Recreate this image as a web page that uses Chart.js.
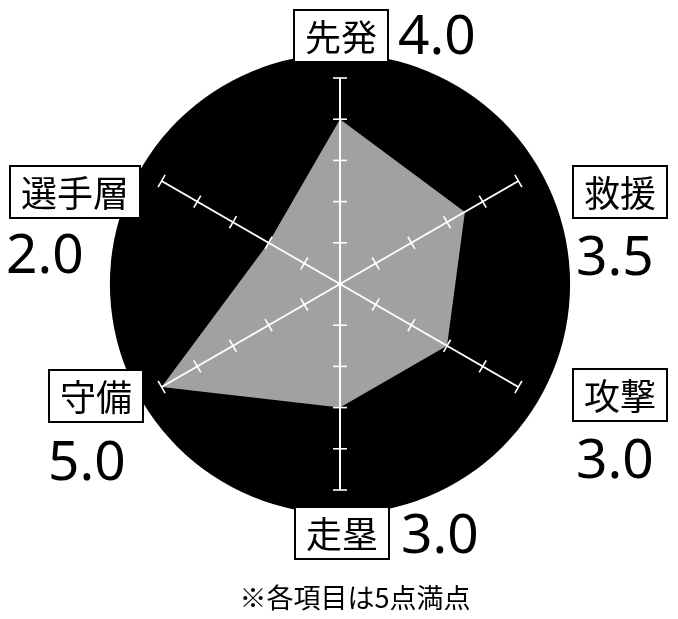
<!DOCTYPE html>
<html>
<head>
<meta charset="utf-8">
<script src="https://cdn.jsdelivr.net/npm/chart.js@4.4.1/dist/chart.umd.min.js"></script>
<style>
  html, body { margin: 0; padding: 0; background: #fff; }
  #wrap { width: 678px; height: 619px; position: relative; }
</style>
</head>
<body>
<div id="wrap"><canvas id="chart"></canvas></div>
<script>
// data
const categories = ['先発', '救援', '攻撃', '走塁', '守備', '選手層']
const scores = [4.0, 3.5, 3.0, 3.0, 5.0, 2.0]
const tickValues = [1, 2, 3, 4, 5]
const footnote = '※各項目は5点満点'

// where each label box / score goes, relative to the chart centre (px)
const labelLayout = [
  { box: [1, -248], value: [58, -230] },
  { box: [280, -92], value: [236, -9] },
  { box: [280, 111], value: [236, 194] },
  { box: [2, 249], value: [61, 269] },
  { box: [-244, 112], value: [-292, 196] },
  { box: [-265, -92], value: [-334, -11] }
]

const radarDecor = {
  id: 'radarDecor',
  beforeDatasetsDraw(chart) {
    const r = chart.scales.r
    const ctx = chart.ctx
    ctx.save()
    ctx.fillStyle = '#000'
    ctx.beginPath()
    ctx.arc(r.xCenter, r.yCenter, r.drawingArea * 1.117, 0, Math.PI * 2)
    ctx.fill()
    ctx.restore()
  },
  afterDraw(chart) {
    const r = chart.scales.r
    const ctx = chart.ctx
    ctx.save()
    // tick marks across each axis
    ctx.strokeStyle = '#fff'
    ctx.lineWidth = 1.6
    categories.forEach((c, i) => {
      tickValues.forEach(v => {
        const d = r.getDistanceFromCenterForValue(v)
        const p = r.getPointPosition(i, d)
        const ang = p.angle + Math.PI / 2
        const h = 7
        ctx.beginPath()
        ctx.moveTo(p.x - Math.cos(ang) * h, p.y - Math.sin(ang) * h)
        ctx.lineTo(p.x + Math.cos(ang) * h, p.y + Math.sin(ang) * h)
        ctx.stroke()
      })
    })

    // label boxes and scores
    categories.forEach((c, i) => {
      const lay = labelLayout[i]
      const bx = r.xCenter + lay.box[0]
      const by = r.yCenter + lay.box[1]
      ctx.font = '36px "Noto Sans CJK JP"'
      const tw = ctx.measureText(c).width
      const bw = tw + 22
      const bh = 52
      ctx.fillStyle = '#fff'
      ctx.fillRect(bx - bw / 2, by - bh / 2, bw, bh)
      ctx.strokeStyle = '#000'
      ctx.lineWidth = 2
      ctx.strokeRect(bx - bw / 2, by - bh / 2, bw, bh)
      ctx.fillStyle = '#000'
      ctx.textAlign = 'center'
      ctx.textBaseline = 'middle'
      ctx.fillText(c, bx, by + 1)

      ctx.font = '55px "Noto Sans"'
      ctx.textAlign = 'left'
      ctx.textBaseline = 'alphabetic'
      ctx.fillText(scores[i].toFixed(1), r.xCenter + lay.value[0], r.yCenter + lay.value[1])
    })

    // footnote
    ctx.font = '27px "Noto Sans CJK JP"'
    ctx.textAlign = 'center'
    ctx.textBaseline = 'middle'
    ctx.fillText(footnote, r.xCenter + 15, r.yCenter + 314)
    ctx.restore()
  }
}

const ctx = document.getElementById('chart')

new Chart(ctx, {
  type: 'radar',
  data: {
    labels: categories,
    datasets: [{
      data: scores,
      backgroundColor: 'rgb(160, 161, 160)',
      borderWidth: 0,
      pointRadius: 0,
      fill: true
    }]
  },
  options: {
    responsive: true,
    maintainAspectRatio: false,
    animation: false,
    layout: {
      padding: { top: 78, bottom: 129, left: 2, right: 0 }
    },
    plugins: {
      legend: { display: false },
      tooltip: { enabled: false }
    },
    scales: {
      r: {
        min: 0,
        max: 5,
        ticks: { display: false, stepSize: 1 },
        grid: { display: false, z: 1 },
        angleLines: { display: true, color: '#fff', lineWidth: 2 },
        pointLabels: { display: false }
      }
    }
  },
  plugins: [radarDecor]
})
</script>
</body>
</html>
